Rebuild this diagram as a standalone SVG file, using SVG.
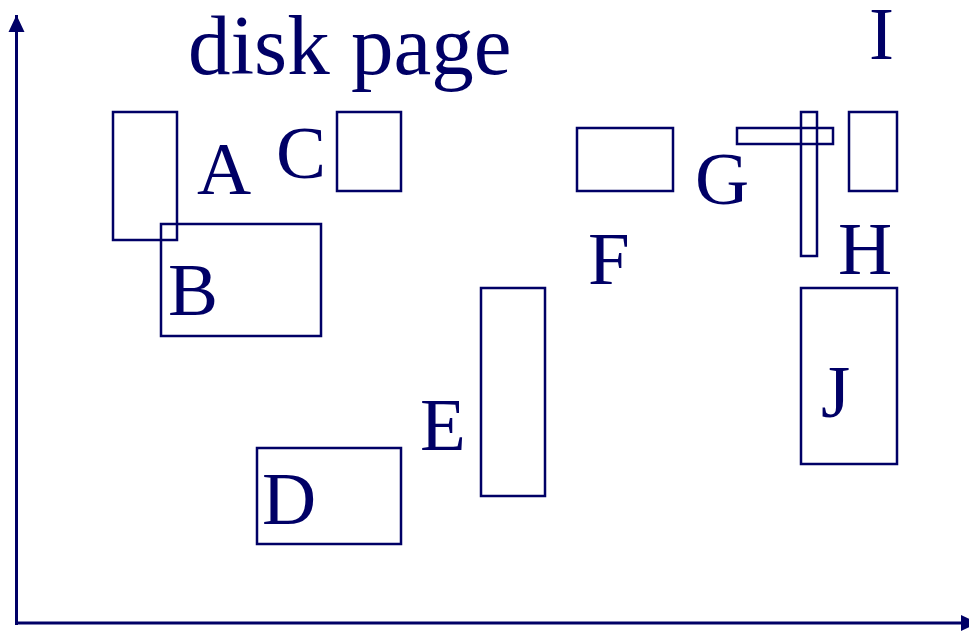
<svg xmlns="http://www.w3.org/2000/svg" width="969" height="633" viewBox="0 0 969 633">
<style>
.box{fill:none;stroke:#000066;stroke-width:2.5}
.lbl{font-family:"Liberation Serif","Times New Roman",serif;font-size:75px;fill:#000066}
.title{font-family:"Liberation Serif","Times New Roman",serif;font-size:85px;fill:#000066}
.axis{stroke:#000066;stroke-width:3;fill:none}
</style>
<defs>
<marker id="arr" markerUnits="userSpaceOnUse" markerWidth="18" markerHeight="18" refX="17" refY="8" orient="auto" viewBox="0 0 18 16">
<path d="M0,0 L17,8 L0,16 z" fill="#000066"/>
</marker>
</defs>
<rect width="969" height="633" fill="#ffffff"/>
<g id="connectors">
<path class="axis" d="M16.5,625 L16.5,15" marker-end="url(#arr)"/>
<path class="axis" d="M15,623 L978,623" marker-end="url(#arr)"/>
</g>
<text id="title" class="title" x="188" y="74">disk page</text>
<g id="A"><rect class="box" x="113" y="112" width="64" height="128"/><text class="lbl" x="197" y="194">A</text></g>
<g id="B"><rect class="box" x="161" y="224" width="160" height="112"/><text class="lbl" x="168" y="315">B</text></g>
<g id="C"><rect class="box" x="337" y="112" width="64" height="79"/><text class="lbl" x="276" y="178">C</text></g>
<g id="D"><rect class="box" x="257" y="448" width="144" height="96"/><text class="lbl" x="262" y="524">D</text></g>
<g id="E"><rect class="box" x="481" y="288" width="64" height="208"/><text class="lbl" x="420" y="450">E</text></g>
<g id="F"><rect class="box" x="577" y="128" width="96" height="63"/><text class="lbl" x="588" y="284">F</text></g>
<g id="G"><rect class="box" x="737" y="128" width="96" height="16"/><text class="lbl" x="695" y="204">G</text></g>
<g id="H"><rect class="box" x="801" y="112" width="16" height="144"/><text class="lbl" x="838" y="274">H</text></g>
<g id="I"><rect class="box" x="849" y="112" width="48" height="79"/><text class="lbl" x="869" y="59">I</text></g>
<g id="J"><rect class="box" x="801" y="288" width="96" height="176"/><text class="lbl" x="821" y="417">J</text></g>
</svg>
